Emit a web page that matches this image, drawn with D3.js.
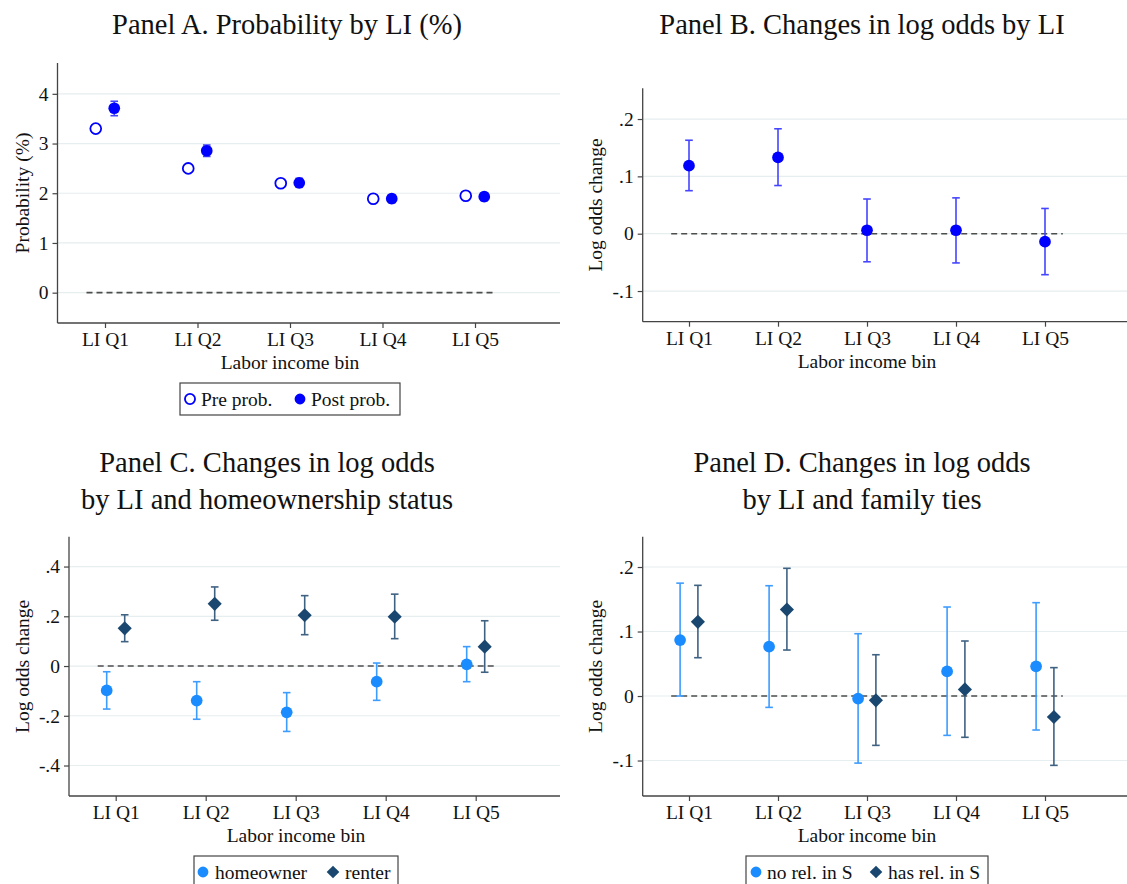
<!DOCTYPE html>
<html><head><meta charset="utf-8">
<script src="https://cdn.jsdelivr.net/npm/d3@7"></script>
<style>
body{margin:0;background:#fff;}
svg{display:block;font-family:"Liberation Serif","Times New Roman",serif;}
</style></head>
<body><svg id="c" width="1127" height="884"></svg>
<script>
// ---------- data ----------
const categories = ["LI Q1","LI Q2","LI Q3","LI Q4","LI Q5"];

// Panel A
const preProb  = [3.30, 2.50, 2.20, 1.89, 1.95];
const postProb = [3.71, 2.855, 2.21, 1.89, 1.93];
const postLo   = [3.56, 2.74, 2.12, 1.81, 1.85];
const postHi   = [3.85, 2.97, 2.30, 1.97, 2.01];
const ticksA   = [0, 1, 2, 3, 4];

// Panel B
const lo_B   = [0.1186, 0.133, 0.006, 0.006, -0.014];
const loLo_B = [0.075, 0.084, -0.049, -0.051, -0.0715];
const loHi_B = [0.163, 0.183, 0.0605, 0.0625, 0.044];
const ticksB = [-0.1, 0, 0.1, 0.2];

// Panel C
const owner   = [-0.098, -0.139, -0.186, -0.063, 0.007];
const ownerLo = [-0.173, -0.214, -0.263, -0.138, -0.063];
const ownerHi = [-0.023, -0.063, -0.107, 0.012, 0.078];
const renter   = [0.1515, 0.25, 0.204, 0.198, 0.078];
const renterLo = [0.098, 0.184, 0.126, 0.11, -0.025];
const renterHi = [0.206, 0.318, 0.283, 0.289, 0.182];
const ticksC = [-0.4, -0.2, 0, 0.2, 0.4];

// Panel D
const noRel   = [0.0868, 0.0765, -0.004, 0.0382, 0.046];
const noRelLo = [0.0, -0.0176, -0.104, -0.061, -0.0527];
const noRelHi = [0.175, 0.171, 0.0966, 0.138, 0.1447];
const hasRel   = [0.115, 0.134, -0.0067, 0.0103, -0.0326];
const hasRelLo = [0.0594, 0.0713, -0.0765, -0.064, -0.1075];
const hasRelHi = [0.1716, 0.198, 0.064, 0.0853, 0.044];
const ticksD = [-0.1, 0, 0.1, 0.2];

// ---------- drawing ----------
const svg = d3.select("#c");
const fmtOdds = v => v === 0 ? "0" : (v < 0 ? "-" : "") + Math.abs(v).toFixed(1).replace(/^0/, "");
const BLUE = "#0000ff", LBLUE = "#1a8cff", NAVY = "#1a476f";
const FS = 19.5, TFS = 28.5;

function marker(shape, size){
  if (shape === "diamond") return d3.symbol().type(d3.symbolSquare).size(size)();
  return d3.symbol().type(d3.symbolCircle).size(size)();
}

function panel(cfg){
  const g = svg.append("g");
  const x = d3.scaleLinear().domain([1,5]).range([cfg.x1, cfg.x5]);
  const y = d3.scaleLinear().domain(cfg.yDomain).range([cfg.bottom, cfg.top]);
  // gridlines
  g.selectAll("line.grid").data(cfg.ticks).join("line")
    .attr("x1", cfg.left).attr("x2", cfg.right)
    .attr("y1", d=>y(d)).attr("y2", d=>y(d))
    .attr("stroke", "#e6eef0").attr("stroke-width", 1.2);
  // y axis
  const ya = g.append("g").attr("transform",`translate(${cfg.left},0)`)
    .call(d3.axisLeft(y).tickValues(cfg.ticks).tickSize(5).tickPadding(4).tickFormat(cfg.fmt));
  ya.attr("font-family", null);
  ya.select(".domain").attr("d", `M0,${cfg.top}V${cfg.bottom}`).attr("stroke","#444").attr("stroke-width",1.3);
  ya.selectAll(".tick line").attr("stroke","#444").attr("stroke-width",1.2);
  ya.selectAll("text").attr("font-size", FS).attr("fill","#111");
  // x axis
  const xa = g.append("g").attr("transform",`translate(0,${cfg.bottom})`)
    .call(d3.axisBottom(x).tickValues([1,2,3,4,5]).tickSize(5).tickPadding(4).tickFormat((d,i)=>categories[i]));
  xa.attr("font-family", null);
  xa.select(".domain").attr("d", `M${cfg.left},0H${cfg.right}`).attr("stroke","#444").attr("stroke-width",1.3);
  xa.selectAll(".tick line").attr("stroke","#444").attr("stroke-width",1.2);
  xa.selectAll("text").attr("font-size", FS).attr("fill","#111");
  // axis titles
  g.append("text").attr("x", cfg.xlabX).attr("y", cfg.bottom+46)
    .attr("text-anchor","middle").attr("font-size",FS).attr("fill","#111").text("Labor income bin");
  g.append("text").attr("transform",`translate(${cfg.ylabX},${(cfg.top+cfg.bottom)/2}) rotate(-90)`)
    .attr("text-anchor","middle").attr("font-size",FS).attr("fill","#111").text(cfg.ylab);
  // zero reference line
  g.append("line").attr("x1", x(0.8)).attr("x2", x(5.2)).attr("y1", y(0)).attr("y2", y(0))
    .attr("stroke","#4d4d4d").attr("stroke-width",1.6).attr("stroke-dasharray","6,4");
  // titles
  cfg.title.forEach((t,i)=>{
    g.append("text").attr("x", cfg.titleX).attr("y", cfg.titleY + i*36.5)
      .attr("text-anchor","middle").attr("font-size",TFS).attr("fill","#111").text(t);
  });
  // series
  cfg.series.forEach(s=>{
    const sg = g.append("g");
    const idx = d3.range(5);
    const px = i => x(i+1+s.off);
    if (s.lo){
      sg.selectAll("line.bar").data(idx).join("line")
        .attr("x1", px).attr("x2", px).attr("y1", i=>y(s.lo[i])).attr("y2", i=>y(s.hi[i]))
        .attr("stroke", s.barColor).attr("stroke-width",1.6);
      ["lo","hi"].forEach(k=>{
        sg.selectAll("line.cap"+k).data(idx).join("line")
          .attr("x1", i=>px(i)-3.8).attr("x2", i=>px(i)+3.8)
          .attr("y1", i=>y(s[k][i])).attr("y2", i=>y(s[k][i]))
          .attr("stroke", s.barColor).attr("stroke-width",1.6);
      });
    }
    sg.selectAll("path.m").data(idx).join("path")
      .attr("transform", i=>`translate(${px(i)},${y(s.vals[i])})` + (s.shape==="diamond"?" rotate(45)":""))
      .attr("d", marker(s.shape, s.shape==="diamond"?100:(s.open?92:108)))
      .attr("fill", s.open ? "#fff" : s.color)
      .attr("stroke", s.color).attr("stroke-width", s.open?1.8:0);
  });
  // legend
  if (cfg.legend){
    const L = cfg.legend;
    g.append("rect").attr("x", L.x).attr("y", L.y).attr("width", L.w).attr("height", L.h)
      .attr("fill","#fff").attr("stroke","#444").attr("stroke-width",1.2);
    L.items.forEach(it=>{
      g.append("path").attr("transform",`translate(${it.mx},${L.my})` + (it.shape==="diamond"?" rotate(45)":""))
        .attr("d", marker(it.shape, it.shape==="diamond"?80:(it.open?80:92)))
        .attr("fill", it.open ? "#fff" : it.color).attr("stroke", it.color).attr("stroke-width", it.open?1.8:0);
      g.append("text").attr("x", it.tx).attr("y", L.ty).attr("font-size",FS).attr("fill","#111").text(it.label);
    });
  }
}

panel({
  left:57.5, right:560, top:63, bottom:323, x1:105, x5:475, xlabX:290,
  yDomain:[-0.61, 4.62], ticks:ticksA, fmt:d3.format("d"),
  ylab:"Probability (%)", ylabX:29, title:["Panel A. Probability by LI (%)"], titleX:287, titleY:34,
  series:[
    {vals:preProb, off:-0.1, color:BLUE, open:true, shape:"circle"},
    {vals:postProb, lo:postLo, hi:postHi, off:0.1, color:BLUE, barColor:"#4545ff", shape:"circle"}
  ],
  legend:{x:180, y:383, w:220, h:32, my:399, ty:406, items:[
    {mx:190, tx:201, label:"Pre prob.", color:BLUE, open:true, shape:"circle"},
    {mx:300, tx:311, label:"Post prob.", color:BLUE, shape:"circle"}]}
});

panel({
  left:642.7, right:1127, top:88.3, bottom:321.7, x1:689, x5:1045, xlabX:867,
  yDomain:[-0.1535, 0.2536], ticks:ticksB, fmt:fmtOdds,
  ylab:"Log odds change", ylabX:602, title:["Panel B. Changes in log odds by LI"], titleX:862, titleY:34,
  series:[
    {vals:lo_B, lo:loLo_B, hi:loHi_B, off:0, color:BLUE, barColor:"#4545ff", shape:"circle"}
  ]
});

panel({
  left:69, right:560, top:536.7, bottom:796, x1:115.7, x5:475.7, xlabX:296,
  yDomain:[-0.5226, 0.52], ticks:ticksC, fmt:fmtOdds,
  ylab:"Log odds change", ylabX:29, title:["Panel C. Changes in log odds","by LI and homeownership status"], titleX:267, titleY:472,
  series:[
    {vals:owner, lo:ownerLo, hi:ownerHi, off:-0.1, color:LBLUE, barColor:"#3d9cff", shape:"circle"},
    {vals:renter, lo:renterLo, hi:renterHi, off:0.1, color:NAVY, barColor:"#3f6283", shape:"diamond"}
  ],
  legend:{x:194, y:856, w:204, h:40, my:872, ty:879, items:[
    {mx:203, tx:215, label:"homeowner", color:LBLUE, shape:"circle"},
    {mx:333, tx:345, label:"renter", color:NAVY, shape:"diamond"}]}
});

panel({
  left:642.7, right:1127, top:536.7, bottom:796, x1:689, x5:1045, xlabX:867,
  yDomain:[-0.155, 0.247], ticks:ticksD, fmt:fmtOdds,
  ylab:"Log odds change", ylabX:602, title:["Panel D. Changes in log odds","by LI and family ties"], titleX:862, titleY:472,
  series:[
    {vals:noRel, lo:noRelLo, hi:noRelHi, off:-0.1, color:LBLUE, barColor:"#3d9cff", shape:"circle"},
    {vals:hasRel, lo:hasRelLo, hi:hasRelHi, off:0.1, color:NAVY, barColor:"#3f6283", shape:"diamond"}
  ],
  legend:{x:746, y:856, w:242, h:40, my:872, ty:879, items:[
    {mx:756, tx:767, label:"no rel. in S", color:LBLUE, shape:"circle"},
    {mx:876, tx:888, label:"has rel. in S", color:NAVY, shape:"diamond"}]}
});
</script></body></html>
